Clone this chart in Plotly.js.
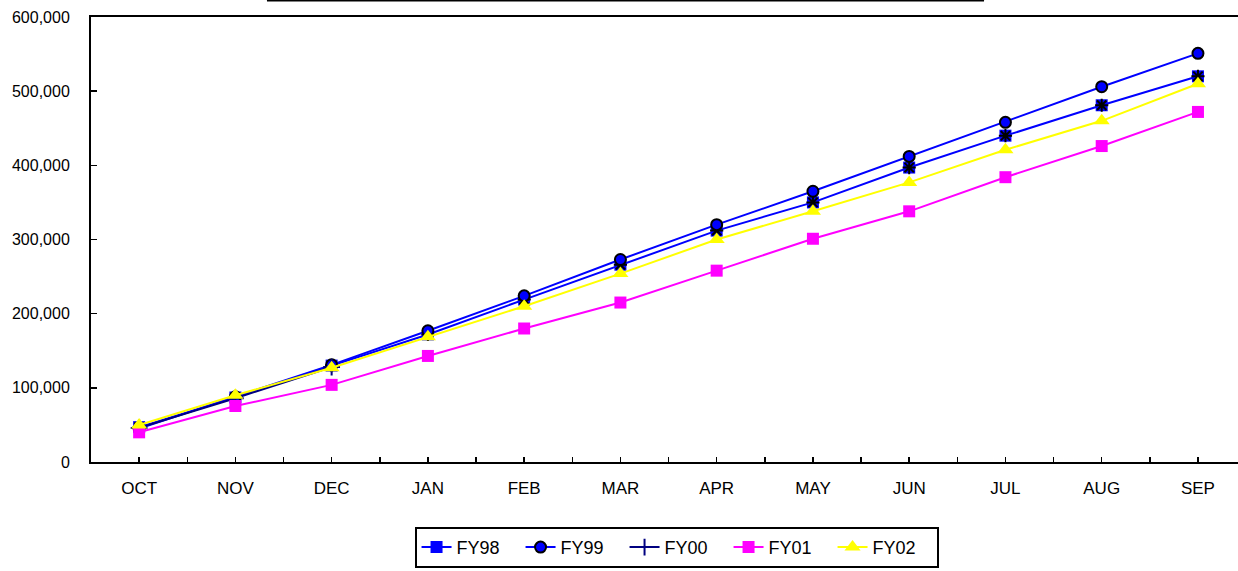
<!DOCTYPE html>
<html>
<head>
<meta charset="utf-8">
<script src="https://cdn.plot.ly/plotly-3.0.1.min.js"></script>
<style>
  html, body { margin: 0; padding: 0; background: #ffffff; }
  #chart { width: 1238px; height: 571px; }
</style>
</head>
<body>
<div id="chart"></div>
<script>
// Fiscal-year months, October through September
const months = ["OCT", "NOV", "DEC", "JAN", "FEB", "MAR", "APR", "MAY", "JUN", "JUL", "AUG", "SEP"];

// Cumulative totals by fiscal year
const fy98 = [47000, 87000, 130000, 172000, 219000, 266000, 312000, 350000, 397000, 440000, 481000, 520000];
const fy99 = [45000, 88000, 131000, 177000, 224000, 273000, 320000, 365000, 412000, 458000, 506000, 551000];
const fy00 = [46000, 86000, 128000, null, null, null, null, null, null, null, null, null];
const fy01 = [40000, 75500, 104000, 143000, 180000, 215000, 258000, 301000, 338000, 384000, 426000, 472000];
const fy02 = [50000, 90000, 127000, 169000, 210000, 254000, 300000, 338000, 377000, 421000, 460000, 510000];

const yTicks = [0, 100000, 200000, 300000, 400000, 500000, 600000];

const xIdx = months.map((m, i) => i);
const FONT = "Liberation Sans, Arial, Helvetica, sans-serif";

const traces = [
  {
    name: "FY98", x: xIdx, y: fy98, type: "scatter", mode: "lines+markers",
    legendgroup: "fy98",
    line: { color: "#0000FF", width: 2 },
    marker: { symbol: "square", size: 12, color: "#0000FF", line: { width: 0 } }
  },
  {
    name: "FY98", x: xIdx, y: fy98, type: "scatter", mode: "markers",
    legendgroup: "fy98", showlegend: false, hoverinfo: "skip",
    marker: { symbol: "asterisk-open", size: 11, color: "#000000", line: { color: "#000000", width: 2 } }
  },
  {
    name: "FY99", x: xIdx, y: fy99, type: "scatter", mode: "lines+markers",
    line: { color: "#0000FF", width: 2 },
    marker: { symbol: "circle", size: 11, color: "#0000FF", line: { color: "#000000", width: 2 } }
  },
  {
    name: "FY00", x: xIdx, y: fy00, type: "scatter", mode: "lines+markers",
    line: { color: "#000080", width: 2 },
    marker: { symbol: "cross-thin-open", size: 12, color: "#000080", line: { color: "#000080", width: 2 } }
  },
  {
    name: "FY01", x: xIdx, y: fy01, type: "scatter", mode: "lines+markers",
    line: { color: "#FF00FF", width: 2 },
    marker: { symbol: "square", size: 12, color: "#FF00FF", line: { width: 0 } }
  },
  {
    name: "FY02", x: xIdx, y: fy02, type: "scatter", mode: "lines+markers",
    line: { color: "#FFFF00", width: 2 },
    marker: { symbol: "triangle-up", size: 14, color: "#FFFF00", line: { width: 0 } }
  }
];

const layout = {
  width: 1238,
  height: 571,
  margin: { l: 91, r: 0, t: 17, b: 109, pad: 0, autoexpand: false },
  paper_bgcolor: "#ffffff",
  plot_bgcolor: "#ffffff",
  font: { family: FONT, color: "#000000", size: 16 },
  showlegend: true,
  xaxis: {
    range: [-0.5, 11.416],
    tickmode: "array",
    tickvals: xIdx,
    ticktext: months,
    ticks: "inside",
    ticklen: 5,
    tickwidth: 1.5,
    tickcolor: "#000000",
    showline: true,
    linecolor: "#000000",
    linewidth: 2,
    mirror: true,
    showgrid: false,
    zeroline: false,
    ticklabelstandoff: 10,
    tickfont: { family: FONT, size: 17, color: "#000000" },
    minor: { tickmode: "linear", tick0: 0.5, dtick: 1, ticks: "inside", ticklen: 5, tickwidth: 1.5, tickcolor: "#000000", showgrid: false }
  },
  yaxis: {
    range: [0, 600000],
    tickmode: "array",
    tickvals: yTicks,
    ticktext: yTicks.map(v => v.toLocaleString("en-US")),
    ticks: "inside",
    ticklen: 6,
    tickwidth: 1.5,
    tickcolor: "#000000",
    showline: true,
    linecolor: "#000000",
    linewidth: 2,
    showgrid: false,
    zeroline: false,
    ticklabelstandoff: 16,
    tickfont: { family: FONT, size: 16, color: "#000000" }
  },
  legend: {
    orientation: "h",
    x: 0.5105,
    xanchor: "center",
    y: -0.238,
    yanchor: "bottom",
    bgcolor: "#ffffff",
    bordercolor: "#000000",
    borderwidth: 2,
    font: { family: FONT, size: 18, color: "#000000" },
    entrywidth: 59,
    entrywidthmode: "pixels",
    traceorder: "normal"
  },
  shapes: [
    {
      type: "line", xref: "paper", yref: "paper",
      x0: 0.1534, x1: 0.7786, y0: 1.0371, y1: 1.0371,
      line: { color: "#000000", width: 2 }
    }
  ]
};

Plotly.newPlot("chart", traces, layout, { displayModeBar: false, staticPlot: true });
</script>
</body>
</html>
